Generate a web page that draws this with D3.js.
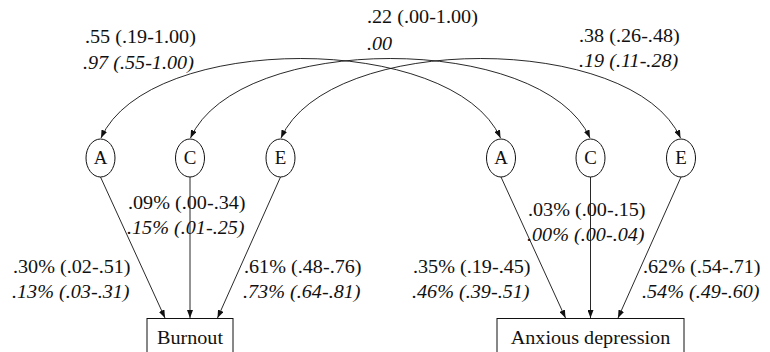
<!DOCTYPE html>
<html>
<head>
<meta charset="utf-8">
<script src="https://cdn.jsdelivr.net/npm/d3@7"></script>
<style>
  html, body { margin: 0; padding: 0; background: #fff; }
  svg { display: block; }
</style>
</head>
<body>
<script>
// ---------- data ----------
const factors = ["A", "C", "E"];
const traits = ["Burnout", "Anxious depression"];
// cross-trait correlations (A, C, E): first line regular, second line italic
const corrRegular = [".55 (.19-1.00)", ".22 (.00-1.00)", ".38 (.26-.48)"];
const corrItalic  = [".97 (.55-1.00)", ".00", ".19 (.11-.28)"];
// variance components per trait: first line regular, second line italic
const burnoutRegular = [".30% (.02-.51)", ".09% (.00-.34)", ".61% (.48-.76)"];
const burnoutItalic  = [".13% (.03-.31)", ".15% (.01-.25)", ".73% (.64-.81)"];
const anxRegular = [".35% (.19-.45)", ".03% (.00-.15)", ".62% (.54-.71)"];
const anxItalic  = [".46% (.39-.51)", ".00% (.00-.04)", ".54% (.49-.60)"];

// ---------- layout ----------
const W = 770, H = 352;
const SX = 1.12, FS = 18;
const INK = "#111";
const FONT = "'Liberation Serif', Tinos, 'Times New Roman', Times, 'DejaVu Serif', serif";
const svg = d3.select("body").append("svg").attr("width", W).attr("height", H)
  .style("font-family", FONT);

const defs = svg.append("defs");
defs.append("marker")
  .attr("id", "arr").attr("viewBox", "0 0 8 6")
  .attr("refX", 8).attr("refY", 3)
  .attr("markerWidth", 8).attr("markerHeight", 6)
  .attr("markerUnits", "userSpaceOnUse")
  .attr("orient", "auto-start-reverse")
  .append("path").attr("d", "M0,0L8,3L0,6Z").attr("fill", INK);

const traitX = d3.scaleOrdinal().domain(traits).range([190, 590.5]); // C-factor / box centre
const factorOff = d3.scaleOrdinal().domain(factors).range([-89.5, 0, 90.5]);
const arrowOff = d3.scaleOrdinal().domain(factors).range([-25, 0, 27.5]);
const nodeX = (t, f) => traitX(t) + factorOff(f);
const cy = 158, rx = 14.5, ry = 19;
const boxTop = 318.5;
const boxHalf = d3.scaleOrdinal().domain(traits).range([43, 93.5]);

function label(g, x, y, str, italic) {
  g.append("text")
    .attr("transform", `translate(${x},${y}) scale(${SX},1)`)
    .attr("font-size", FS)
    .attr("font-family", FONT)
    .attr("fill", INK)
    .attr("font-style", italic ? "italic" : "normal")
    .text(str);
}

// arcs between same factor across traits
const arc = svg.append("g").attr("fill", "none").attr("stroke", INK).attr("stroke-width", 0.9);
factors.forEach(f => {
  const x1 = nodeX(traits[0], f), x2 = nodeX(traits[1], f);
  const p = d3.path();
  p.moveTo(x1 + 0.5, cy - ry - 1);
  p.bezierCurveTo(x1 + 48, 32, x2 - 48, 32, x2 - 0.5, cy - ry - 1);
  arc.append("path").attr("d", p.toString())
    .attr("marker-start", "url(#arr)").attr("marker-end", "url(#arr)");
});

// ellipses + paths to boxes
traits.forEach(t => {
  const g = svg.append("g");
  factors.forEach(f => {
    const x = nodeX(t, f);
    g.append("line")
      .attr("x1", x).attr("y1", cy + ry)
      .attr("x2", traitX(t) + arrowOff(f)).attr("y2", boxTop - 0.5)
      .attr("stroke", INK).attr("stroke-width", 0.9)
      .attr("marker-end", "url(#arr)");
    g.append("ellipse").attr("cx", x).attr("cy", cy).attr("rx", rx).attr("ry", ry)
      .attr("fill", "#fff").attr("stroke", INK).attr("stroke-width", 1);
    g.append("text").attr("x", 0).attr("y", 0)
      .attr("text-anchor", "middle").attr("font-size", FS)
      .attr("font-family", FONT).attr("fill", INK)
      .attr("transform", `translate(${x},${cy + 6}) scale(1.05,1)`)
      .text(f);
  });
  const half = boxHalf(t);
  g.append("rect").attr("x", traitX(t) - half).attr("y", boxTop)
    .attr("width", 2 * half).attr("height", 60)
    .attr("fill", "#fff").attr("stroke", INK).attr("stroke-width", 1);
  g.append("text").attr("x", 0).attr("y", 0)
    .attr("text-anchor", "middle").attr("font-size", FS)
    .attr("font-family", FONT).attr("fill", INK)
    .attr("transform", `translate(${traitX(t)},344) scale(${SX},1)`)
    .text(t);
});

// correlation labels
const lg = svg.append("g");
const corrPos = [[85, 43, 83, 69], [367, 23, 367, 50], [579, 42, 579, 67]];
factors.forEach((f, i) => {
  const p = corrPos[i];
  label(lg, p[0], p[1], corrRegular[i], false);
  label(lg, p[2], p[3], corrItalic[i], true);
});

// variance component labels
const compPos = [
  [[13, 273], [128, 209], [244, 273]],
  [[413, 273], [528, 216], [643, 273]]
];
const regs = [burnoutRegular, anxRegular], itals = [burnoutItalic, anxItalic];
traits.forEach((t, ti) => {
  factors.forEach((f, i) => {
    const [x, y] = compPos[ti][i];
    label(lg, x, y, regs[ti][i], false);
    label(lg, x - 1, y + 25, itals[ti][i], true);
  });
});
</script>
</body>
</html>
